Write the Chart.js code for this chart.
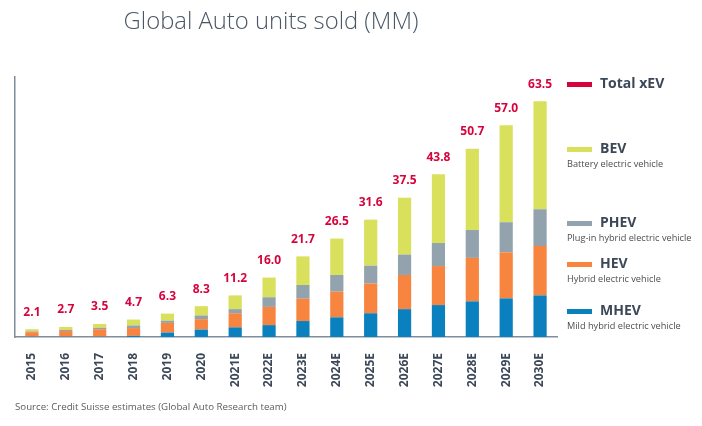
<!DOCTYPE html>
<html>
<head>
<meta charset="utf-8">
<script src="https://cdn.jsdelivr.net/npm/chart.js@4.4.1/dist/chart.umd.min.js"></script>
<style>
  html, body { margin: 0; padding: 0; background: #fff; }
  #wrap { position: relative; width: 702px; height: 426px; overflow: hidden; font-family: "Open Sans", sans-serif; }
  #chart { position: absolute; left: 0; top: 0; }
  .title { position: absolute; left: 71px; width: 400px; top: 6px; text-align: center; font-size: 23.8px; font-weight: 300; color: #4a5766; white-space: nowrap; line-height: 1.2; }
  .src { position: absolute; left: 15px; top: 400px; font-size: 9.7px; color: #5b5b5b; white-space: nowrap; }
  .sw { position: absolute; left: 567px; width: 25px; height: 5px; }
  .nm { position: absolute; left: 600px; font-weight: 700; font-size: 14px; color: #3c4858; white-space: nowrap; line-height: 1; }
  .ds { position: absolute; left: 567px; font-size: 9.2px; color: #4d4d4d; white-space: nowrap; line-height: 1; }
</style>
</head>
<body>
<div id="wrap">
  <canvas id="chart" width="702" height="426"></canvas>
  <div class="title">Global Auto units sold (MM)</div>
  <div class="src">Source: Credit Suisse estimates (Global Auto Research team)</div>
  <div id="legend"></div>
</div>
<script>
// Data (million units)
const years = ['2015', '2016', '2017', '2018', '2019', '2020', '2021E', '2022E',
  '2023E', '2024E', '2025E', '2026E', '2027E', '2028E', '2029E', '2030E'];
const mhev = [0.1, 0.1, 0.1, 0.3, 1.2, 2.0, 2.6, 3.2, 4.3, 5.3, 6.4, 7.5, 8.6, 9.6, 10.4, 11.2];
const hev = [1.2, 1.5, 2.0, 2.1, 2.6, 2.8, 3.8, 4.9, 6.0, 6.9, 8.0, 9.2, 10.5, 11.7, 12.4, 13.3];
const phev = [0.2, 0.3, 0.4, 0.7, 0.6, 1.0, 1.1, 2.6, 3.7, 4.5, 4.8, 5.5, 6.2, 7.5, 8.1, 9.9];
const bev = [0.6, 0.8, 1.0, 1.6, 1.9, 2.5, 3.7, 5.3, 7.7, 9.8, 12.4, 15.3, 18.5, 21.9, 26.1, 29.1];
const totals = [2.1, 2.7, 3.5, 4.7, 6.3, 8.3, 11.2, 16.0, 21.7, 26.5, 31.6, 37.5, 43.8, 50.7, 57.0, 63.5];

const legendNames = ['Total xEV', 'BEV', 'PHEV', 'HEV', 'MHEV'];
const legendNotes = ['', 'Battery electric vehicle', 'Plug-in hybrid electric vehicle',
  'Hybrid electric vehicle', 'Mild hybrid electric vehicle'];

const COLORS = {
  total: '#d6043c',
  bev: '#d9e05b',
  phev: '#93a3ad',
  hev: '#f7843f',
  mhev: '#0a80bf',
  axis: '#7f8e9c',
  tick: '#3c4858',
};

// -----------------------------------------------------------------------------
// Legend (HTML, laid out to the right of the plot)
// -----------------------------------------------------------------------------
const legendColors = [COLORS.total, COLORS.bev, COLORS.phev, COLORS.hev, COLORS.mhev];
const legendRows = [84, 149, 223, 264, 311];
const legendEl = document.getElementById('legend');
legendNames.forEach((name, i) => {
  const y = legendRows[i];
  const sw = document.createElement('div');
  sw.className = 'sw';
  sw.style.top = (y - 2.5) + 'px';
  sw.style.background = legendColors[i];
  legendEl.appendChild(sw);

  const nm = document.createElement('div');
  nm.className = 'nm';
  nm.style.top = (y - 8) + 'px';
  nm.textContent = name;
  legendEl.appendChild(nm);

  if (legendNotes[i]) {
    const ds = document.createElement('div');
    ds.className = 'ds';
    ds.style.top = (y + 10) + 'px';
    ds.textContent = legendNotes[i];
    legendEl.appendChild(ds);
  }
});

// -----------------------------------------------------------------------------
// Total labels above each stack
// -----------------------------------------------------------------------------
const totalLabels = {
  id: 'totalLabels',
  afterDatasetsDraw(chart) {
    const { ctx, scales } = chart;
    ctx.save();
    ctx.fillStyle = COLORS.total;
    ctx.font = 'bold 12px "Open Sans", sans-serif';
    ctx.textAlign = 'center';
    ctx.textBaseline = 'middle';
    totals.forEach((v, i) => {
      const x = scales.x.getPixelForValue(i);
      const y = scales.y.getPixelForValue(v);
      ctx.fillText(v.toFixed(1), x, y - 17);
    });
    ctx.restore();
  },
};

const bar = (label, data, color) => ({
  label, data,
  backgroundColor: color,
  borderWidth: 0,
  categoryPercentage: 1,
  barPercentage: 0.39,
});

new Chart(document.getElementById('chart'), {
  type: 'bar',
  data: {
    labels: years,
    datasets: [
      bar('MHEV', mhev, COLORS.mhev),
      bar('HEV', hev, COLORS.hev),
      bar('PHEV', phev, COLORS.phev),
      bar('BEV', bev, COLORS.bev),
    ],
  },
  options: {
    responsive: false,
    animation: false,
    layout: { padding: { left: 15, right: 145, top: 77, bottom: 0 } },
    plugins: {
      legend: { display: false },
      tooltip: { enabled: false },
    },
    scales: {
      x: {
        stacked: true,
        grid: { display: false },
        border: { display: true, color: COLORS.axis, width: 1.5 },
        ticks: {
          minRotation: 90,
          maxRotation: 90,
          autoSkip: false,
          padding: 8,
          color: COLORS.tick,
          font: { family: '"Open Sans", sans-serif', weight: 'bold', size: 12 },
        },
        afterFit: (s) => { s.height = 89; },
      },
      y: {
        stacked: true,
        min: 0,
        max: 70,
        grid: { display: false },
        border: { display: true, color: COLORS.axis, width: 1.5 },
        ticks: { display: false },
        afterFit: (s) => { s.width = 0; },
      },
    },
  },
  plugins: [totalLabels],
});
</script>
</body>
</html>
